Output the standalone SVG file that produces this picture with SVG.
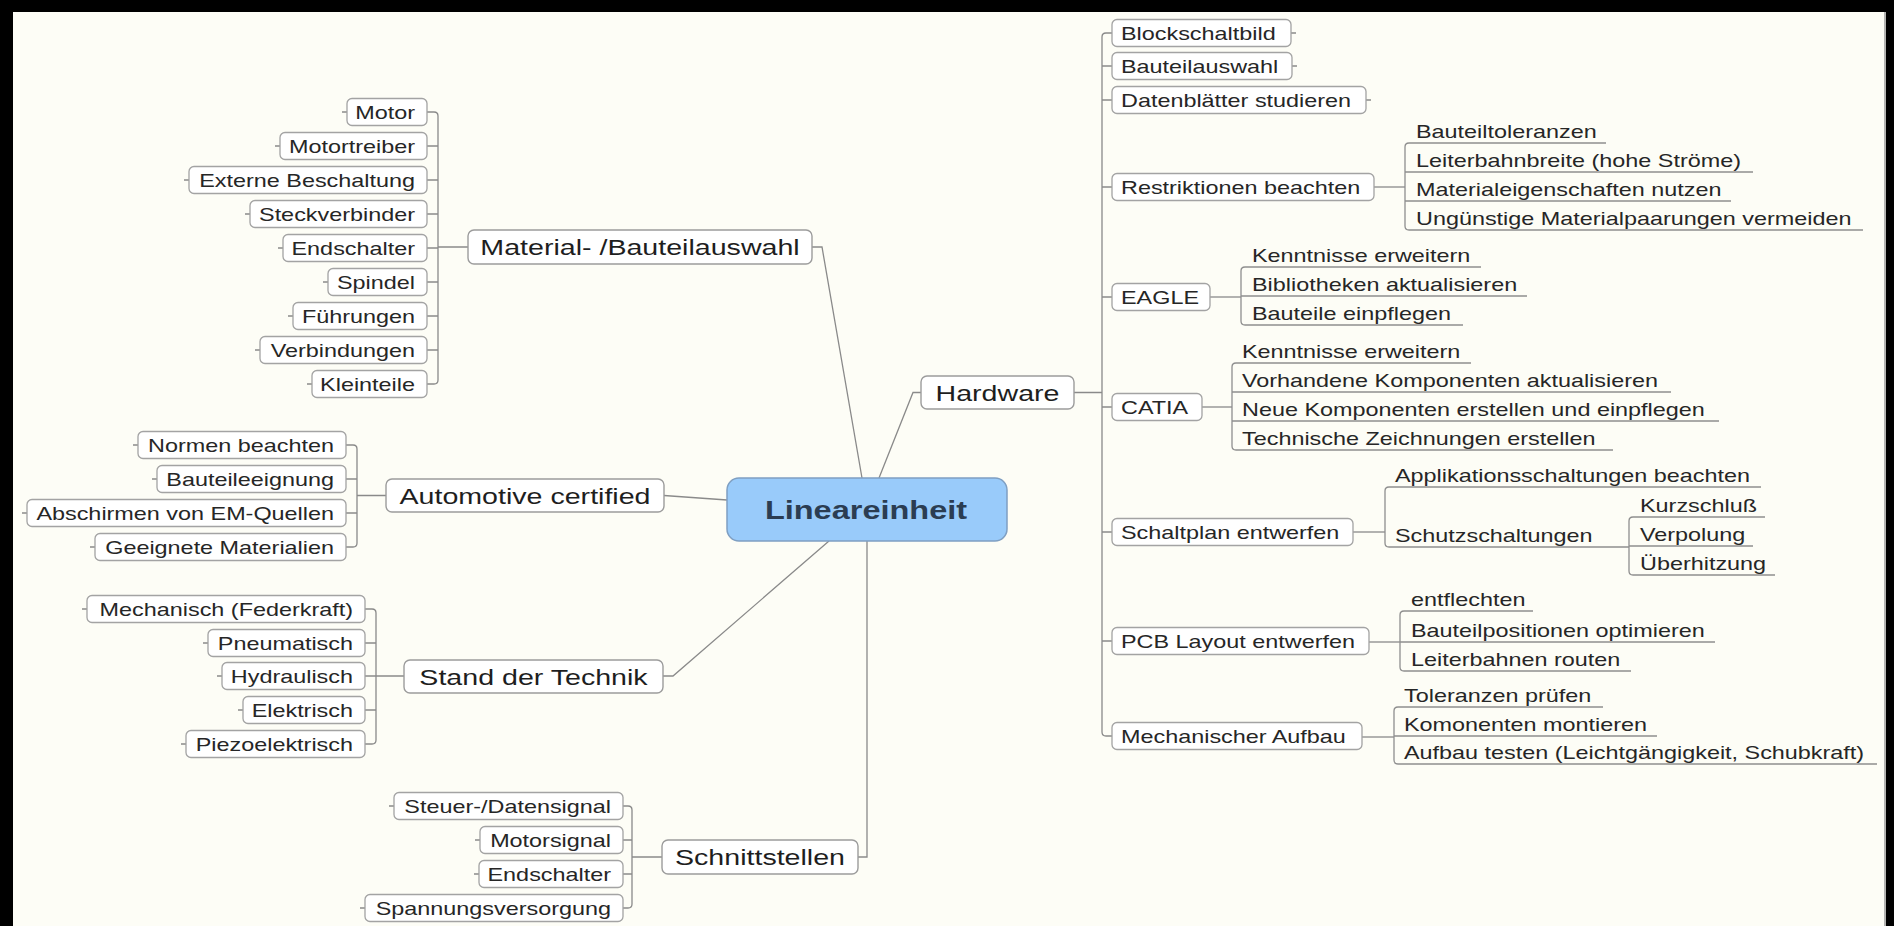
<svg xmlns="http://www.w3.org/2000/svg" width="1894" height="926" viewBox="0 0 1894 926">
<defs>
<style>
.bg{fill:#fdfdf6}
.frame{fill:#000}
.box{fill:#fff;stroke:#a3a3a3;stroke-width:1.3}
.main{fill:#fff;stroke:#9c9c9c;stroke-width:1.4}
.root{fill:#99cbfa;stroke:#7f9fc2;stroke-width:1.5}
.con{fill:none;stroke:#8a8a8a;stroke-width:1.3}
.ul{fill:none;stroke:#8f8f8f;stroke-width:1.3}
text{font-family:"Liberation Sans",Arial,sans-serif;fill:#262626}
.t{font-size:18px}
.l1{font-size:22px;text-anchor:middle;fill:#1e1e1e}
.rt{font-size:25px;font-weight:bold;text-anchor:middle;fill:#2b3d52}
.e{text-anchor:end}
.s{text-anchor:start}
</style>
</defs>

<!-- canvas and frame -->
<rect class="bg" x="0" y="0" width="1894" height="926"/>
<rect class="frame" x="0" y="0" width="1894" height="12"/>
<rect class="frame" x="0" y="0" width="13" height="926"/>
<rect class="frame" x="1886" y="0" width="8" height="926"/>
<line x1="1885" y1="12" x2="1885" y2="926" stroke="#9a9a9a" stroke-width="1.5"/>

<g id="connectors">
  <!-- root to main topics -->
  <path class="con" d="M812,247 H822 L862,478"/>
  <path class="con" d="M879,478 L913,392.5 H921"/>
  <path class="con" d="M664,495.5 L727,500"/>
  <path class="con" d="M663,676 H673 L829,541"/>
  <path class="con" d="M858,857 H867 V541"/>

  <!-- Material- /Bauteilauswahl -->
  <path class="con" d="M427,112 H434 Q438,112 438,116 V380 Q438,384 434,384 H427 M427,146 H438 M427,180 H438 M427,214 H438 M427,248 H438 M427,282 H438 M427,316 H438 M427,350 H438 M438,247 H468"/>
  <path class="con" d="M347,112 h-5 M280,146 h-5 M189,180 h-5 M250,214 h-5 M283,248 h-5 M328,282 h-5 M293,316 h-5 M260,350 h-5 M312,384 h-5"/>

  <!-- Automotive certified -->
  <path class="con" d="M346,445 H353 Q357,445 357,449 V543 Q357,547 353,547 H346 M346,479 H357 M346,513 H357 M357,495.5 H386"/>
  <path class="con" d="M138,445 h-5 M157,479 h-5 M27,513 h-5 M95,547 h-5"/>

  <!-- Stand der Technik -->
  <path class="con" d="M365,609 H372 Q376,609 376,613 V740 Q376,744 372,744 H365 M365,643 H376 M365,676 H376 M365,710 H376 M376,676 H404"/>
  <path class="con" d="M87,609 h-5 M208,643 h-5 M222,676 h-5 M243,710 h-5 M186,744 h-5"/>

  <!-- Schnittstellen -->
  <path class="con" d="M623,806 H628 Q632,806 632,810 V904 Q632,908 628,908 H623 M623,840 H632 M623,874 H632 M632,857 H662"/>
  <path class="con" d="M394,806 h-5 M480,840 h-5 M479,874 h-5 M365,908 h-5"/>

  <!-- Hardware trunk -->
  <path class="con" d="M1112,33 H1106 Q1102,33 1102,37 V732 Q1102,736 1106,736 H1112 M1102,66 H1112 M1102,100 H1112 M1102,187 H1112 M1102,297 H1112 M1102,407 H1112 M1102,532 H1112 M1102,641 H1112 M1074,392.5 H1102"/>
  <path class="con" d="M1291,33 h5 M1292,66 h5 M1366,100 h5"/>

  <!-- Restriktionen beachten -->
  <path class="con" d="M1374,187 H1405"/>
  <path class="ul" d="M1606,143 H1409 Q1405,143 1405,147 V226 Q1405,230 1409,230 H1863 M1405,172 H1753 M1405,201 H1731"/>
  <!-- EAGLE -->
  <path class="con" d="M1210,297 H1241"/>
  <path class="ul" d="M1481,267 H1245 Q1241,267 1241,271 V321 Q1241,325 1245,325 H1463 M1241,296 H1527"/>
  <!-- CATIA -->
  <path class="con" d="M1202,407 H1232"/>
  <path class="ul" d="M1471,363 H1236 Q1232,363 1232,367 V446 Q1232,450 1236,450 H1613 M1232,392 H1671 M1232,421 H1719"/>
  <!-- Schaltplan entwerfen -->
  <path class="con" d="M1353,532 H1385"/>
  <path class="ul" d="M1761,487 H1389 Q1385,487 1385,491 V543 Q1385,547 1389,547 H1629"/>
  <path class="ul" d="M1765,517 H1633 Q1629,517 1629,521 V571 Q1629,575 1633,575 H1775 M1629,546 H1753"/>
  <!-- PCB Layout entwerfen -->
  <path class="con" d="M1369,642 H1400"/>
  <path class="ul" d="M1533,611 H1404 Q1400,611 1400,615 V667 Q1400,671 1404,671 H1631 M1400,642 H1715"/>
  <!-- Mechanischer Aufbau -->
  <path class="con" d="M1362,737 H1394"/>
  <path class="ul" d="M1603,707 H1398 Q1394,707 1394,711 V760 Q1394,764 1398,764 H1877 M1394,736 H1657"/>
</g>

<!-- central topic -->
<g id="node-lineareinheit">
  <rect class="root" x="727" y="478" width="280" height="63" rx="12"/>
  <text class="rt" transform="translate(866,518.5) scale(1.3,1)">Lineareinheit</text>
</g>

<!-- main topics -->
<g id="node-material">
  <rect class="main" x="468" y="230" width="344" height="34" rx="6"/>
  <text class="l1" transform="translate(640,255) scale(1.3,1)">Material- /Bauteilauswahl</text>
</g>
<g id="node-automotive">
  <rect class="main" x="386" y="479" width="278" height="33" rx="6"/>
  <text class="l1" transform="translate(525,503.5) scale(1.3,1)">Automotive certified</text>
</g>
<g id="node-stand">
  <rect class="main" x="404" y="660" width="259" height="33" rx="6"/>
  <text class="l1" transform="translate(533.5,684.5) scale(1.3,1)">Stand der Technik</text>
</g>
<g id="node-schnittstellen">
  <rect class="main" x="662" y="840" width="196" height="34" rx="6"/>
  <text class="l1" transform="translate(760,865) scale(1.3,1)">Schnittstellen</text>
</g>
<g id="node-hardware">
  <rect class="main" x="921" y="376" width="153" height="33" rx="6"/>
  <text class="l1" transform="translate(997.5,400.5) scale(1.3,1)">Hardware</text>
</g>

<!-- Material- /Bauteilauswahl leaves -->
<g id="node-motor"><rect class="box" x="347" y="98.5" width="80" height="27" rx="5"/><text class="t e" transform="translate(415,118.5) scale(1.3,1)">Motor</text></g>
<g id="node-motortreiber"><rect class="box" x="280" y="132.5" width="147" height="27" rx="5"/><text class="t e" transform="translate(415,152.5) scale(1.3,1)">Motortreiber</text></g>
<g id="node-externe"><rect class="box" x="189" y="166.5" width="238" height="27" rx="5"/><text class="t e" transform="translate(415,186.5) scale(1.3,1)">Externe Beschaltung</text></g>
<g id="node-steckverbinder"><rect class="box" x="250" y="200.5" width="177" height="27" rx="5"/><text class="t e" transform="translate(415,220.5) scale(1.3,1)">Steckverbinder</text></g>
<g id="node-endschalter1"><rect class="box" x="283" y="234.5" width="144" height="27" rx="5"/><text class="t e" transform="translate(415,254.5) scale(1.3,1)">Endschalter</text></g>
<g id="node-spindel"><rect class="box" x="328" y="268.5" width="99" height="27" rx="5"/><text class="t e" transform="translate(415,288.5) scale(1.3,1)">Spindel</text></g>
<g id="node-fuehrungen"><rect class="box" x="293" y="302.5" width="134" height="27" rx="5"/><text class="t e" transform="translate(415,322.5) scale(1.3,1)">Führungen</text></g>
<g id="node-verbindungen"><rect class="box" x="260" y="336.5" width="167" height="27" rx="5"/><text class="t e" transform="translate(415,356.5) scale(1.3,1)">Verbindungen</text></g>
<g id="node-kleinteile"><rect class="box" x="312" y="370.5" width="115" height="27" rx="5"/><text class="t e" transform="translate(415,390.5) scale(1.3,1)">Kleinteile</text></g>

<!-- Automotive certified leaves -->
<g id="node-normen"><rect class="box" x="138" y="431.5" width="208" height="27" rx="5"/><text class="t e" transform="translate(334,451.5) scale(1.3,1)">Normen beachten</text></g>
<g id="node-eignung"><rect class="box" x="157" y="465.5" width="189" height="27" rx="5"/><text class="t e" transform="translate(334,485.5) scale(1.3,1)">Bauteileeignung</text></g>
<g id="node-abschirmen"><rect class="box" x="27" y="499.5" width="319" height="27" rx="5"/><text class="t e" transform="translate(334,519.5) scale(1.3,1)">Abschirmen von EM-Quellen</text></g>
<g id="node-materialien"><rect class="box" x="95" y="533.5" width="251" height="27" rx="5"/><text class="t e" transform="translate(334,553.5) scale(1.3,1)">Geeignete Materialien</text></g>

<!-- Stand der Technik leaves -->
<g id="node-mechanisch"><rect class="box" x="87" y="595.5" width="278" height="27" rx="5"/><text class="t e" transform="translate(353,615.5) scale(1.3,1)">Mechanisch (Federkraft)</text></g>
<g id="node-pneumatisch"><rect class="box" x="208" y="629.5" width="157" height="27" rx="5"/><text class="t e" transform="translate(353,649.5) scale(1.3,1)">Pneumatisch</text></g>
<g id="node-hydraulisch"><rect class="box" x="222" y="662.5" width="143" height="27" rx="5"/><text class="t e" transform="translate(353,682.5) scale(1.3,1)">Hydraulisch</text></g>
<g id="node-elektrisch"><rect class="box" x="243" y="696.5" width="122" height="27" rx="5"/><text class="t e" transform="translate(353,716.5) scale(1.3,1)">Elektrisch</text></g>
<g id="node-piezo"><rect class="box" x="186" y="730.5" width="179" height="27" rx="5"/><text class="t e" transform="translate(353,750.5) scale(1.3,1)">Piezoelektrisch</text></g>

<!-- Schnittstellen leaves -->
<g id="node-steuer"><rect class="box" x="394" y="792.5" width="229" height="27" rx="5"/><text class="t e" transform="translate(611,812.5) scale(1.3,1)">Steuer-/Datensignal</text></g>
<g id="node-motorsignal"><rect class="box" x="480" y="826.5" width="143" height="27" rx="5"/><text class="t e" transform="translate(611,846.5) scale(1.3,1)">Motorsignal</text></g>
<g id="node-endschalter2"><rect class="box" x="479" y="860.5" width="144" height="27" rx="5"/><text class="t e" transform="translate(611,880.5) scale(1.3,1)">Endschalter</text></g>
<g id="node-spannung"><rect class="box" x="365" y="894.5" width="258" height="27" rx="5"/><text class="t e" transform="translate(611,914.5) scale(1.3,1)">Spannungsversorgung</text></g>

<!-- Hardware subtopics -->
<g id="node-blockschaltbild"><rect class="box" x="1112" y="19.5" width="179" height="27" rx="5"/><text class="t s" transform="translate(1121,39.5) scale(1.3,1)">Blockschaltbild</text></g>
<g id="node-bauteilauswahl"><rect class="box" x="1112" y="52.5" width="180" height="27" rx="5"/><text class="t s" transform="translate(1121,72.5) scale(1.3,1)">Bauteilauswahl</text></g>
<g id="node-datenblaetter"><rect class="box" x="1112" y="86.5" width="254" height="27" rx="5"/><text class="t s" transform="translate(1121,106.5) scale(1.3,1)">Datenblätter studieren</text></g>
<g id="node-restriktionen"><rect class="box" x="1112" y="173.5" width="262" height="27" rx="5"/><text class="t s" transform="translate(1121,193.5) scale(1.3,1)">Restriktionen beachten</text></g>
<g id="node-eagle"><rect class="box" x="1112" y="283.5" width="98" height="27" rx="5"/><text class="t s" transform="translate(1121,303.5) scale(1.3,1)">EAGLE</text></g>
<g id="node-catia"><rect class="box" x="1112" y="393.5" width="90" height="27" rx="5"/><text class="t s" transform="translate(1121,413.5) scale(1.3,1)">CATIA</text></g>
<g id="node-schaltplan"><rect class="box" x="1112" y="518.5" width="241" height="27" rx="5"/><text class="t s" transform="translate(1121,538.5) scale(1.3,1)">Schaltplan entwerfen</text></g>
<g id="node-pcb"><rect class="box" x="1112" y="627.5" width="257" height="27" rx="5"/><text class="t s" transform="translate(1121,647.5) scale(1.3,1)">PCB Layout entwerfen</text></g>
<g id="node-mechaufbau"><rect class="box" x="1112" y="722.5" width="250" height="27" rx="5"/><text class="t s" transform="translate(1121,742.5) scale(1.3,1)">Mechanischer Aufbau</text></g>

<!-- underlined detail topics -->
<g id="node-restriktionen-items">
  <text class="t s" transform="translate(1416,137.5) scale(1.3,1)">Bauteiltoleranzen</text>
  <text class="t s" transform="translate(1416,166.5) scale(1.3,1)">Leiterbahnbreite (hohe Ströme)</text>
  <text class="t s" transform="translate(1416,195.5) scale(1.3,1)">Materialeigenschaften nutzen</text>
  <text class="t s" transform="translate(1416,224.5) scale(1.3,1)">Ungünstige Materialpaarungen vermeiden</text>
</g>
<g id="node-eagle-items">
  <text class="t s" transform="translate(1252,261.5) scale(1.3,1)">Kenntnisse erweitern</text>
  <text class="t s" transform="translate(1252,290.5) scale(1.3,1)">Bibliotheken aktualisieren</text>
  <text class="t s" transform="translate(1252,319.5) scale(1.3,1)">Bauteile einpflegen</text>
</g>
<g id="node-catia-items">
  <text class="t s" transform="translate(1242,357.5) scale(1.3,1)">Kenntnisse erweitern</text>
  <text class="t s" transform="translate(1242,386.5) scale(1.3,1)">Vorhandene Komponenten aktualisieren</text>
  <text class="t s" transform="translate(1242,415.5) scale(1.3,1)">Neue Komponenten erstellen und einpflegen</text>
  <text class="t s" transform="translate(1242,444.5) scale(1.3,1)">Technische Zeichnungen erstellen</text>
</g>
<g id="node-schaltplan-items">
  <text class="t s" transform="translate(1395,481.5) scale(1.3,1)">Applikationsschaltungen beachten</text>
  <text class="t s" transform="translate(1395,541.5) scale(1.3,1)">Schutzschaltungen</text>
</g>
<g id="node-schutz-items">
  <text class="t s" transform="translate(1640,511.5) scale(1.3,1)">Kurzschluß</text>
  <text class="t s" transform="translate(1640,540.5) scale(1.3,1)">Verpolung</text>
  <text class="t s" transform="translate(1640,569.5) scale(1.3,1)">Überhitzung</text>
</g>
<g id="node-pcb-items">
  <text class="t s" transform="translate(1411,605.5) scale(1.3,1)">entflechten</text>
  <text class="t s" transform="translate(1411,636.5) scale(1.3,1)">Bauteilpositionen optimieren</text>
  <text class="t s" transform="translate(1411,665.5) scale(1.3,1)">Leiterbahnen routen</text>
</g>
<g id="node-mechaufbau-items">
  <text class="t s" transform="translate(1404,701.5) scale(1.3,1)">Toleranzen prüfen</text>
  <text class="t s" transform="translate(1404,730.5) scale(1.3,1)">Komonenten montieren</text>
  <text class="t s" transform="translate(1404,758.5) scale(1.3,1)">Aufbau testen (Leichtgängigkeit, Schubkraft)</text>
</g>
</svg>
